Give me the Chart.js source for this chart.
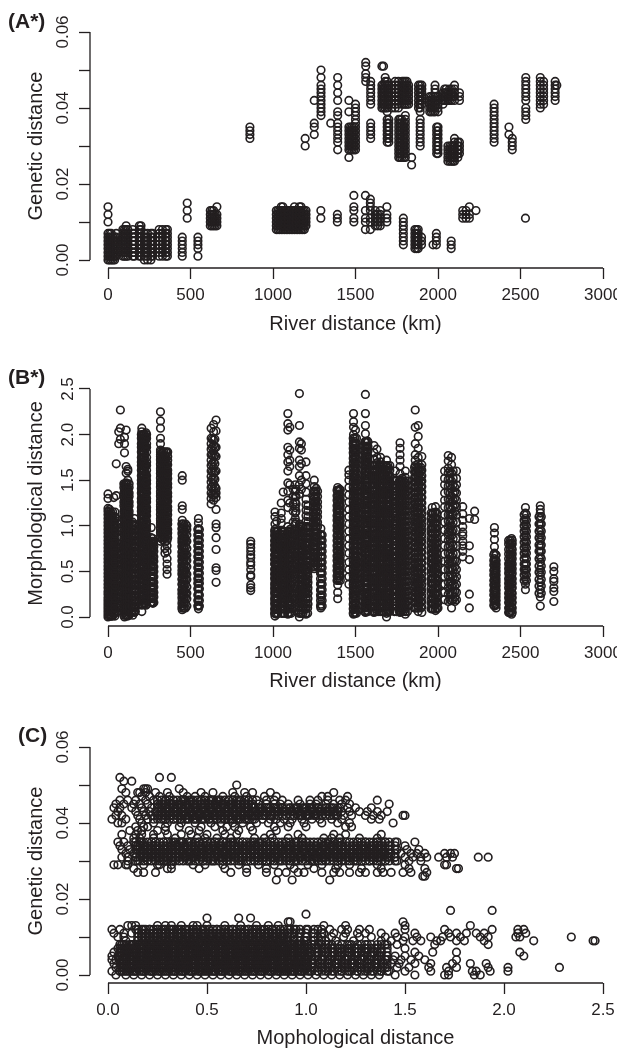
<!DOCTYPE html>
<html>
<head>
    <title>Genetic and morphological distance</title>
    <script src="https://cdn.jsdelivr.net/npm/chart.js"></script>
    <style>
        html, body { margin: 0; padding: 0; background: #fff; overflow: hidden; }
        canvas { position: absolute; left: 0; }
        .tag { position: absolute; font: bold 21px "Liberation Sans", Arial, sans-serif; color: #231f20; z-index: 2; }
    </style>
</head>
<body>
    <div class="tag" style="left:8px;top:9px">(A*)</div>
    <div class="tag" style="left:8px;top:365px">(B*)</div>
    <div class="tag" style="left:18px;top:723px">(C)</div>
    <canvas id="chartA" width="621" height="340" style="top:0"></canvas>
    <canvas id="chartB" width="621" height="352" style="top:345px"></canvas>
    <canvas id="chartC" width="621" height="354" style="top:700px"></canvas>

    <script>
    // 軸の目盛り
    const riverTicks = [0, 500, 1000, 1500, 2000, 2500, 3000];
    const riverTickLabels = ['0', '500', '1000', '1500', '2000', '2500', '3000'];
    const geneticTicks = [0, 0.01, 0.02, 0.03, 0.04, 0.05, 0.06];
    const geneticTickLabels = ['0.00', '', '0.02', '', '0.04', '', '0.06'];
    const morphTicks = [0, 0.5, 1, 1.5, 2, 2.5];
    const morphTickLabels = ['0.0', '0.5', '1.0', '1.5', '2.0', '2.5'];

    // (A) river distance in km, genetic distance in units of 0.001, one list per column
    const aKm = [0, 10, 20, 30, 40, 50, 90, 100, 110, 120, 150, 160, 190, 200, 220, 240, 260, 270, 310, 330, 350, 360, 450, 480, 545,
        620, 630, 640, 650, 660, 1020, 1040, 1050, 1060, 1080, 1100, 1110, 1130, 1150, 1170, 1190, 1200, 1290, 1390, 1490, 1560, 1590,
        1620, 1650, 1690, 1790, 1860, 1880, 1900, 1970, 1990, 2080, 2150, 2170, 2190, 2230, 2530,
        860, 1195, 1250, 1291, 1350, 1392, 1460, 1480, 1500, 1562, 1592, 1660, 1670, 1680, 1692, 1702, 1770, 1792, 1802, 1840,
        1892, 1882, 1902, 1960, 1982, 2000, 1992, 2030, 2060, 2082, 2100, 2130, 2340, 2430, 2450, 2532, 2620, 2640, 2710, 2720,
        1030, 1070, 1090, 1120, 1140, 1160, 1180, 1720, 1740, 1760, 1782, 1812, 1822, 1762, 1780, 1470, 1490, 1950, 1972, 2040, 2050, 2070, 2072, 2092, 2120, 1870, 1635];
    const aGen = [
        [0, 1, 2, 3, 4, 5, 6, 7, 10, 12, 14], [0, 1, 2, 3, 4, 5, 6, 7], [0, 1, 2, 3, 4, 5, 6, 7], [0, 1, 2, 3, 4, 5, 6], [0, 1, 2, 3, 4, 5, 6],
        [1, 2, 3, 4, 5, 6, 7], [1, 2, 3, 4, 5, 6, 7, 8], [1, 2, 3, 4, 5, 6, 7, 8], [1, 2, 3, 4, 5, 6, 7, 8, 9], [1, 2, 3, 4, 5, 6, 7, 8],
        [1, 2, 3, 4, 5, 6, 7, 8], [1, 2, 3, 4, 5, 6, 7], [1, 2, 3, 4, 5, 6, 7, 8, 9], [1, 2, 3, 4, 5, 6, 7, 8, 9], [0, 1, 2, 3, 4, 5, 6, 7],
        [0, 1, 2, 3, 4, 5, 6, 7], [0, 1, 2, 3, 4, 5, 6, 7], [1, 2, 3, 4, 5, 6, 7], [1, 2, 3, 4, 5, 6, 7, 8], [1, 2, 3, 4, 5, 6, 7, 8],
        [1, 2, 3, 4, 5, 6, 7, 8], [1, 2, 3, 4, 5, 6, 7, 8], [1, 2, 3, 4, 5, 6], [11, 13, 15], [1, 3, 4, 5, 6],
        [9, 10, 11, 12, 13], [9, 10, 11, 12, 13], [9, 10, 11, 12, 13], [9, 10, 11, 12], [9, 10, 11, 12, 14],
        [8, 9, 10, 11, 12, 13], [8, 9, 10, 11, 12, 13], [8, 9, 10, 11, 12, 13, 14], [8, 9, 10, 11, 12, 13, 14], [8, 9, 10, 11, 12, 13],
        [8, 9, 10, 11, 12, 13], [8, 9, 10, 11, 12, 13], [8, 9, 10, 11, 12, 13, 14], [8, 9, 10, 11, 12, 13], [8, 9, 10, 11, 12, 13, 14],
        [8, 9, 10, 11, 12, 13], [9, 10, 11, 12, 13], [11, 13], [10, 11, 12], [10, 11, 13, 14, 17], [8, 10, 11, 13, 17], [8, 10, 11, 13, 14, 15, 16],
        [9, 10, 11, 12, 13], [9, 10, 11, 12, 13], [10, 11, 12, 14], [4, 5, 6, 7, 8, 9, 10, 11], [3, 4, 5, 6, 7, 8], [3, 4, 5, 6, 7, 8], [4, 5, 6],
        [4], [4, 5, 6, 7], [3, 4, 5], [11, 12, 13], [11, 12, 13], [11, 12, 14], [13], [11],
        [32, 33, 34, 35], [30, 32], [33, 35, 36, 42], [38, 39, 40, 41, 42, 43, 44, 45, 46, 48, 50], [36],
        [29, 31, 32, 33, 34, 35, 36, 38, 39, 42, 44, 46, 48], [27, 29, 30, 31, 32, 33, 34, 35, 39, 42], [29, 30, 31, 32, 33, 34, 35],
        [29, 30, 31, 32, 33, 34, 35, 36, 37, 38, 39, 40, 41], [47, 48, 49, 51, 52], [32, 33, 34, 35, 36, 41, 42, 43, 44, 45, 46, 47],
        [40, 41, 42, 43, 44, 45, 46, 51], [40, 41, 42, 43, 44, 45, 46, 51], [40, 41, 42, 43, 44, 45, 46, 47, 48],
        [31, 32, 33, 34, 35, 36, 37, 39, 40, 41, 42, 43, 44, 45, 46, 47], [31, 32, 33, 34, 35, 36, 37, 41, 42, 43, 44, 45, 46],
        [27, 28, 29, 30, 31, 32, 33, 34, 35, 36, 37], [27, 28, 29, 30, 31, 32, 33, 34, 35, 36, 41, 42, 43, 44, 45, 46, 47],
        [27, 28, 29, 30, 31, 32, 33, 34, 35, 36, 37, 38, 41, 42, 43, 44, 45, 46, 47], [25, 27],
        [30, 31, 32, 33, 34, 35, 36, 37, 39, 40, 41, 42, 43, 44, 45, 46], [40, 41, 42, 43, 44, 45, 46], [41, 42, 43, 44, 45, 46],
        [39, 40, 41, 42, 43], [39, 40, 41, 42, 43, 44, 45, 46], [39, 40, 41, 42, 43, 28, 29, 30, 31, 32, 33, 34, 35], [28, 29, 30, 31, 32, 33, 34, 35],
        [41, 42, 43, 44], [26, 27, 28, 29, 30, 42, 43, 44], [26, 27, 28, 29, 30, 42, 43, 44, 45], [26, 27, 28, 29, 30, 31, 32, 42, 43, 44, 45, 46],
        [28, 29, 30, 31, 42, 43, 44], [31, 32, 33, 34, 35, 36, 37, 38, 39, 40, 41], [33, 35], [29, 30, 31, 32],
        [37, 38, 39, 40, 42, 43, 44, 45, 46, 47, 48], [40, 41, 42, 43, 44, 45, 46, 47, 48], [41, 42, 43, 44, 45, 46, 47], [42, 43, 44, 45, 46, 47], [46],
        [8, 9, 10, 11, 12, 13], [8, 9, 10, 11, 12, 13], [8, 9, 10, 11, 12, 13], [8, 9, 10, 11, 12, 13], [8, 9, 10, 11, 12, 13], [8, 9, 10, 11, 12, 13, 14], [8, 9, 10, 11, 12, 13],
        [40, 41, 42, 43, 44, 45, 46], [40, 41, 42, 43, 44, 45, 46, 47], [40, 41, 42, 43, 44, 45, 46, 47], [41, 42, 43, 44, 45, 46, 47], [41, 42, 43, 44, 45, 46, 47], [41, 42, 43, 44, 45, 46],
        [27, 28, 29, 30, 31, 32, 33, 34, 35, 36, 37], [27, 28, 29, 30, 31, 32, 33, 34, 35, 36, 37], [29, 30, 31, 32, 33, 34, 35], [29, 30, 31, 32, 33, 34, 35],
        [39, 40, 41, 42, 43], [39, 40, 41, 42, 43], [42, 43, 44, 45], [42, 43, 44, 45], [42, 43, 44, 45], [26, 27, 28, 29, 30], [26, 27, 28, 29, 30], [27, 28, 29, 30, 31], [3, 4, 5, 6, 7, 8], [9, 10, 11, 12]
    ];

    // (B) river distance in km, morphological distance in units of 0.01
    const bKm = [0, 10, 20, 35, 50, 65, 75, 100, 110, 120, 150, 160, 205, 218, 230, 262, 272, 318, 330, 345, 358,
        450, 462, 478, 548, 625, 640, 655, 865, 1012, 1022, 1050, 1062, 1090, 1102, 1135, 1160, 1172, 1200, 1212, 1250, 1262, 1290,
        1392, 1404, 1460, 1488, 1500, 1512, 1560, 1572, 1612, 1630, 1652, 1688, 1700, 1742, 1770, 1782, 1802, 1862, 1880, 1902, 1965, 1985, 2000,
        2062, 2082, 2102, 2150, 2190, 2222, 2342, 2352, 2432, 2446, 2530, 2620, 2702];
    const bMorph = [
        [0, 3, 6, 9, 12, 15, 18, 21, 25, 28, 32, 36, 40, 44, 48, 52, 56, 60, 64, 68, 72, 76, 80, 84, 88, 92, 96, 100, 104, 108, 112, 116, 119, 130, 135],
        [2, 7, 12, 17, 22, 27, 33, 38, 43, 48, 53, 58, 63, 68, 73, 78, 83, 88, 93, 98, 103, 108, 113, 118],
        [1, 5, 10, 15, 20, 25, 30, 35, 41, 46, 51, 56, 61, 66, 71, 76, 81, 86, 91, 96, 101, 106, 111],
        [3, 9, 14, 19, 24, 29, 34, 40, 45, 50, 55, 60, 65, 70, 75, 80, 85, 90, 95, 100, 105, 131],
        [5, 11, 18, 24, 31, 37, 44, 50, 57, 63, 70, 76, 82, 92, 100, 108, 133, 168],
        [10, 16, 22, 28, 34, 40, 46, 52, 58, 64, 70, 76, 80, 190, 203],
        [12, 20, 30, 40, 50, 60, 70, 195, 207, 227],
        [0, 5, 10, 15, 20, 25, 30, 35, 40, 45, 50, 55, 60, 65, 70, 75, 80, 85, 90, 95, 100, 105, 110, 115, 120, 125, 130, 135, 140, 145, 180, 190, 197],
        [2, 7, 12, 17, 22, 27, 32, 37, 42, 47, 52, 57, 62, 67, 72, 77, 82, 87, 92, 97, 102, 107, 112, 117, 122, 127, 132, 137, 142, 147, 158, 165, 205],
        [1, 6, 11, 16, 21, 26, 31, 36, 41, 46, 51, 56, 61, 66, 71, 76, 81, 86, 91, 96, 101, 106, 111, 116, 121, 126, 131, 136, 141, 150, 160, 162],
        [2, 8, 14, 20, 26, 32, 38, 44, 50, 56, 62, 68, 74, 80, 86, 92, 98, 104],
        [5, 11, 17, 23, 29, 35, 41, 47, 53, 59, 65, 71, 77, 83, 89, 95, 101, 108],
        [6, 13, 18, 23, 28, 33, 38, 43, 48, 53, 58, 63, 68, 73, 78, 83, 88, 93, 98, 103, 108, 113, 118, 123, 128, 133, 138, 143, 148, 153, 158, 163, 168, 173, 178, 183, 188, 193, 198, 203, 207],
        [15, 20, 25, 30, 35, 40, 45, 50, 55, 60, 65, 70, 75, 80, 85, 90, 95, 100, 105, 110, 115, 120, 125, 130, 135, 140, 145, 150, 155, 160, 165, 170, 175, 180, 185, 190, 195, 200],
        [13, 18, 22, 27, 32, 37, 42, 47, 52, 57, 62, 67, 72, 77, 82, 87, 92, 97, 102, 107, 112, 117, 122, 127, 132, 137, 142, 147, 152, 157, 167, 186, 195, 202],
        [16, 21, 27, 33, 39, 45, 51, 57, 63, 69, 75, 81, 87, 98],
        [15, 20, 26, 32, 38, 44, 50, 56, 62, 68, 74, 80, 86],
        [83, 88, 93, 98, 103, 108, 113, 118, 123, 128, 133, 138, 143, 148, 153, 158, 163, 168, 173, 178, 183, 190, 196, 207, 215, 225],
        [85, 90, 95, 100, 105, 110, 115, 120, 125, 130, 135, 140, 145, 150, 155, 160, 165, 170, 175, 180],
        [70, 75, 82, 87, 92, 97, 102, 107, 112, 117, 122, 127, 132, 137, 142, 147, 152, 157, 162, 167, 172],
        [47, 52, 58, 64, 72, 78, 84, 90, 96, 102, 108, 114, 120, 126, 132, 138, 144, 150, 156, 162, 168, 180],
        [8, 12, 18, 24, 30, 36, 42, 48, 54, 60, 66, 72, 78, 84, 90, 96, 102, 106, 118, 122, 150, 155],
        [10, 16, 22, 28, 34, 40, 46, 52, 58, 64, 70, 76, 82, 88, 94, 100],
        [12, 20, 26, 33, 41, 47, 55, 62, 68, 75, 83, 90, 96, 100],
        [9, 13, 19, 25, 31, 37, 43, 49, 55, 61, 67, 73, 79, 85, 91, 97, 103, 108],
        [124, 130, 136, 142, 148, 154, 160, 166, 172, 178, 184, 190, 196, 207],
        [128, 134, 140, 146, 152, 158, 164, 170, 176, 182, 188, 194, 203, 211],
        [38, 51, 54, 74, 87, 98, 102, 118, 131, 136, 141, 160, 176, 186, 204, 216],
        [29, 32, 35, 44, 46, 52, 57, 60, 65, 68, 72, 76, 80, 83],
        [1, 4, 8, 13, 18, 23, 28, 33, 38, 43, 48, 53, 58, 63, 68, 73, 78, 83, 88, 96, 102, 110, 115],
        [3, 9, 15, 21, 27, 33, 39, 45, 51, 57, 63, 69, 75, 81, 87, 93, 105],
        [12, 18, 24, 30, 36, 42, 48, 54, 60, 66, 72, 78, 84, 90, 95, 103, 108, 114, 125],
        [15, 21, 27, 33, 39, 45, 51, 57, 63, 69, 75, 81, 87, 93, 137],
        [3, 9, 15, 21, 27, 33, 39, 45, 51, 57, 63, 69, 75, 81, 87, 93, 99, 120, 128, 138, 147, 160, 170, 178, 186, 205, 212, 223],
        [5, 12, 18, 24, 30, 36, 42, 48, 54, 60, 66, 72, 78, 84, 90, 96, 125, 145, 165, 172, 183, 208],
        [60, 66, 72, 78, 84, 90, 96, 102, 108, 114, 120, 126, 132, 138, 145],
        [0, 6, 12, 18, 24, 30, 36, 42, 48, 54, 60, 66, 72, 78, 84, 90, 96, 102, 135, 145, 155, 165, 172, 185, 192, 210, 245],
        [4, 10, 16, 22, 28, 34, 40, 46, 52, 58, 64, 70, 76, 82, 88, 94, 100, 140, 150, 168, 183, 190],
        [3, 9, 15, 21, 27, 33, 39, 45, 51, 57, 63, 69, 75, 81, 87, 93, 99, 105, 111, 117, 123, 129, 137, 146, 155, 170],
        [14, 20, 26, 32, 38, 44, 50, 56, 62, 68, 74, 80, 86, 92, 98, 104, 110, 116, 122],
        [53, 59, 65, 71, 77, 83, 89, 95, 101, 107, 113, 119, 125, 131, 137, 143, 150],
        [57, 63, 69, 75, 81, 87, 93, 99, 105, 111, 117, 123, 129, 135, 141],
        [10, 14, 22, 29, 37, 48, 54, 60, 66, 72, 78, 84, 90, 97],
        [20, 27, 35, 42, 48, 54, 60, 66, 72, 78, 84, 90, 96, 102, 108, 114, 120, 126, 132, 138, 142],
        [45, 51, 57, 63, 69, 75, 81, 87, 93, 99, 105, 111, 117, 123, 129, 135, 140],
        [36, 44, 52, 60, 70, 78, 86, 94, 102, 110, 118, 126, 134, 142, 150, 156, 161],
        [3, 8, 13, 18, 23, 28, 33, 38, 43, 48, 53, 58, 63, 68, 73, 78, 83, 88, 93, 98, 103, 108, 113, 118, 123, 128, 133, 138, 143, 148, 153, 158, 163, 168, 173, 178, 183, 188, 193, 200, 208, 214, 223],
        [5, 10, 15, 20, 25, 30, 35, 40, 45, 50, 55, 60, 65, 70, 75, 80, 85, 90, 95, 100, 105, 110, 115, 120, 125, 130, 135, 140, 145, 150, 155, 160, 165, 170, 175, 180, 185, 190, 205],
        [30, 36, 42, 48, 54, 60, 66, 72, 78, 84, 90, 96, 102, 108, 114, 120, 126, 132, 138, 144, 150],
        [5, 10, 15, 20, 25, 30, 35, 40, 45, 50, 55, 60, 65, 70, 75, 80, 85, 90, 95, 100, 105, 110, 115, 120, 125, 130, 135, 140, 145, 150, 155, 160, 165, 170, 175, 180, 185, 192, 201, 210, 223, 244],
        [7, 13, 19, 25, 31, 37, 43, 49, 55, 61, 67, 73, 79, 85, 91, 97, 103, 109, 115, 121, 127, 133, 139, 145, 151, 157, 163, 169, 175, 181, 187, 193],
        [5, 12, 19, 26, 33, 40, 47, 54, 61, 68, 75, 82, 89, 96, 103, 110, 117, 124, 131, 138, 145, 152, 159, 166, 173, 180, 188],
        [8, 15, 22, 29, 36, 43, 50, 57, 64, 71, 78, 85, 92, 99, 106, 113, 120, 127, 134, 141, 148, 155, 162, 169, 175, 184],
        [10, 17, 24, 31, 38, 45, 52, 59, 66, 73, 80, 87, 94, 101, 108, 115, 122, 129, 136, 143, 150, 157, 164, 170, 175],
        [0, 4, 9, 15, 21, 27, 33, 39, 45, 51, 57, 63, 69, 75, 81, 87, 93, 99, 105, 111, 117, 123, 129, 135, 141, 147, 153, 159, 165, 172],
        [6, 12, 18, 24, 30, 36, 42, 48, 54, 60, 66, 72, 78, 84, 90, 96, 102, 108, 114, 120, 126, 132, 138, 144, 150, 156, 163],
        [30, 36, 42, 48, 54, 60, 66, 72, 78, 84, 90, 96, 102, 108, 114, 120, 126, 132, 138, 144, 150, 160],
        [5, 10, 15, 20, 25, 30, 35, 40, 45, 50, 55, 60, 65, 70, 75, 80, 85, 90, 95, 100, 105, 110, 115, 120, 125, 130, 135, 140, 145, 150, 157, 165, 172, 178, 185, 191],
        [8, 14, 20, 26, 32, 38, 44, 50, 56, 62, 68, 74, 80, 86, 92, 98, 104, 110, 116, 122, 128, 134, 140, 146, 152],
        [3, 9, 15, 21, 27, 33, 39, 45, 51, 57, 63, 69, 75, 81, 87, 93, 99, 105, 111, 117, 123, 129, 135, 141, 147, 153, 160],
        [10, 16, 22, 28, 34, 40, 46, 52, 58, 64, 70, 76, 82, 88, 94, 100, 106, 112, 118, 124, 130, 136, 142, 148, 154, 160, 166, 172, 178, 190, 208, 227],
        [6, 12, 18, 24, 30, 36, 42, 48, 54, 60, 66, 72, 78, 84, 90, 96, 102, 108, 114, 120, 126, 132, 138, 144, 150, 156, 162, 168, 175, 185, 198, 210],
        [5, 11, 17, 23, 29, 35, 41, 47, 53, 59, 65, 71, 77, 83, 89, 95, 101, 107, 113, 119, 125, 131, 137, 143, 149, 155, 161, 167, 176],
        [9, 15, 22, 29, 36, 43, 50, 57, 64, 71, 78, 85, 92, 99, 106, 113, 120],
        [7, 13, 19, 25, 31, 37, 43, 49, 55, 61, 67, 73, 79, 85, 91, 97, 103, 109, 115, 121],
        [10, 16, 24, 32, 40, 48, 56, 62],
        [17, 25, 32, 38, 45, 52, 58, 63, 70, 77, 84, 90, 93, 99, 105, 112, 120, 129, 137, 144, 151, 158, 163, 171, 177],
        [10, 18, 26, 34, 39, 46, 53, 60, 67, 74, 81, 89, 94, 100, 107, 112, 118, 126, 132, 141, 149, 158, 167, 175],
        [17, 22, 28, 34, 41, 48, 55, 62, 116, 123, 130, 137, 142],
        [66, 72, 78, 83, 89, 93, 99, 106, 113, 121],
        [10, 25, 63, 78, 108],
        [107, 116],
        [12, 16, 20, 24, 28, 32, 36, 40, 44, 48, 52, 56, 60, 64, 70, 77, 85, 92, 98],
        [10, 14, 18, 22, 26, 30, 34, 38, 42, 46, 50, 54, 58, 62, 68],
        [5, 10, 15, 20, 25, 30, 35, 40, 45, 50, 55, 60],
        [3, 7, 11, 16, 21, 26, 31, 36, 41, 46, 51, 56, 61, 66, 71, 76, 81, 86],
        [30, 36, 42, 48, 52, 58, 66, 72, 78, 84, 90, 96, 102, 108, 114, 120],
        [12, 22, 30, 38, 46, 52, 60, 66, 72, 78, 84, 90, 96, 102, 108, 114, 118, 122],
        [17, 28, 32, 39, 42, 50, 55]
    ];
    // (B) ほぼ真っ黒なところ: 同じ値が並ぶ列のまとまり
    const bBlockKm = [[4, 16, 28, 42], [96, 106, 116, 128], [146, 156, 166], [202, 212, 222, 234], [258, 268, 278], [318, 328, 338, 350, 362],
        [448, 458, 470], [544, 554], [1010, 1020, 1030, 1050, 1060, 1070, 1090, 1100, 1110], [1158, 1170, 1182, 1198, 1210], [1245, 1258, 1270], [1288, 1298],
        [1388, 1398, 1408], [1486, 1496, 1506], [1556, 1566, 1576], [1606, 1618, 1630, 1642, 1654, 1668, 1684, 1696, 1708], [1735, 1748, 1766, 1778, 1790, 1802, 1815],
        [1858, 1870, 1882, 1896], [1958, 1970, 1982, 1994], [2338, 2350], [2428, 2438, 2450], [2522, 2536], [2612, 2626],
        [2040, 2072, 2092, 2112], [632, 648], [1122, 1140]];
    const bBlockMorph = [
        [1, 6, 10, 16, 20, 26, 31, 35, 41, 45, 50, 56, 60, 66, 70, 75, 81, 85, 91, 95, 100, 106, 110, 115],
        [2, 7, 11, 17, 21, 27, 31, 37, 42, 46, 52, 56, 62, 66, 72, 77, 81, 87, 91, 97, 101, 107, 112, 116, 122, 126, 132, 136, 142, 146],
        [6, 12, 18, 23, 30, 36, 41, 48, 54, 60, 66, 71, 78, 84, 90, 96, 101],
        [14, 19, 25, 30, 35, 41, 46, 50, 56, 61, 66, 70, 76, 81, 86, 90, 96, 100, 105, 111, 116, 120, 126, 130, 136, 141, 146, 150, 155, 161, 166, 170, 175, 181, 186, 190, 196, 200],
        [16, 22, 27, 33, 38, 44, 50, 55, 61, 66, 72, 77, 83],
        [87, 92, 96, 102, 106, 112, 117, 121, 127, 132, 136, 142, 146, 152, 157, 161, 167, 172, 176, 181],
        [10, 15, 21, 26, 30, 36, 41, 47, 51, 56, 62, 67, 71, 77, 82, 86, 92, 97, 102],
        [12, 18, 24, 31, 37, 42, 48, 54, 60, 66, 72, 78, 84, 90, 96],
        [4, 9, 15, 20, 26, 31, 36, 42, 47, 52, 58, 63, 68, 74, 79, 84, 90, 94],
        [4, 10, 15, 21, 26, 30, 36, 41, 47, 52, 56, 62, 67, 73, 78, 82, 88, 93, 99],
        [55, 60, 66, 71, 77, 82, 88, 93, 99, 104, 110, 115, 121, 126, 132, 138],
        [12, 18, 24, 30, 36, 42, 48, 54, 60, 66, 72, 78, 84, 90],
        [40, 45, 51, 56, 62, 67, 73, 78, 84, 89, 95, 100, 106, 111, 117, 122, 128, 133, 139],
        [4, 9, 14, 20, 25, 30, 36, 41, 46, 52, 57, 62, 68, 73, 78, 84, 89, 94, 100, 105, 110, 116, 121, 126, 132, 137, 142, 148, 153, 158, 164, 169, 174, 180, 185, 190, 196],
        [6, 11, 16, 22, 27, 32, 38, 43, 48, 54, 59, 64, 70, 75, 80, 86, 91, 96, 102, 107, 112, 118, 123, 128, 134, 139, 144, 150, 155, 160, 166, 171, 176, 182, 187, 192],
        [6, 11, 17, 22, 27, 33, 38, 43, 49, 54, 59, 65, 70, 75, 81, 86, 91, 97, 102, 107, 113, 118, 123, 129, 134, 139, 145, 150, 155, 161, 166],
        [6, 12, 17, 23, 28, 34, 39, 45, 50, 56, 61, 67, 72, 78, 83, 89, 94, 100, 105, 111, 116, 122, 127, 133, 138, 144, 149],
        [10, 16, 21, 27, 32, 38, 43, 49, 54, 60, 65, 71, 76, 82, 87, 93, 98, 104, 109, 115, 120, 126, 131, 137, 142, 148, 153, 159, 164],
        [9, 15, 20, 26, 31, 37, 42, 48, 53, 59, 64, 70, 75, 81, 86, 92, 97, 103, 108, 114],
        [13, 18, 24, 29, 35, 40, 46, 51, 57, 62, 68],
        [5, 10, 16, 21, 26, 32, 37, 42, 48, 53, 58, 64, 69, 74, 80, 84],
        [40, 46, 52, 58, 64, 70, 76, 82, 88, 94, 100, 106, 112],
        [26, 34, 41, 49, 56, 64, 72, 79, 87, 94, 102, 110],
        [19, 27, 36, 44, 52, 61, 69, 78, 86, 95, 104, 112, 121, 128, 136, 145, 152, 160],
        [134, 143, 151, 159, 168, 177, 186, 195],
        [20, 32, 44, 56, 68, 80, 92, 104, 116, 124, 132, 140]
    ];

    // (C) genetic distance in units of 0.001, morphological distance in units of 0.01
    const cGen = [52, 51, 50, 49, 48, 47, 46, 45, 44, 43, 42, 41, 40, 39, 38, 37, 36, 35, 34, 33, 32, 31, 30, 29, 28, 27, 26, 25,
        17, 16, 15, 14, 13, 12, 11, 10, 9, 8, 7, 6, 5, 4, 3, 2, 1, 0];
    const cMorph = [
        [6, 26, 32], [8, 12], [65], [7, 18, 19, 20, 36], [9, 15, 16, 19, 24, 30, 38, 47, 53, 63, 69, 73, 82, 114],
        [17, 21, 26, 31, 40, 44, 49, 58, 64, 70, 79, 85, 108, 111, 121],
        [6, 10, 14, 19, 23, 29, 33, 38, 42, 47, 52, 56, 61, 66, 71, 75, 80, 84, 88, 96, 102, 106, 111, 117, 120, 136],
        [4, 8, 13, 16, 20, 25, 28, 32, 36, 40, 43, 47, 51, 54, 58, 62, 65, 69, 73, 76, 80, 84, 87, 91, 97, 102, 105, 110, 114, 118, 122, 142],
        [3, 6, 12, 17, 22, 26, 30, 33, 37, 41, 44, 48, 52, 55, 59, 63, 66, 70, 74, 77, 81, 85, 88, 92, 95, 99, 103, 106, 110, 113, 117, 121, 125, 133],
        [5, 14, 18, 21, 24, 27, 31, 34, 38, 42, 45, 49, 53, 56, 60, 64, 67, 71, 75, 78, 82, 86, 89, 93, 96, 100, 104, 107, 111, 114, 118, 122, 127, 131, 136, 141],
        [4, 7, 15, 19, 22, 26, 29, 32, 35, 39, 43, 46, 50, 54, 57, 61, 65, 68, 72, 76, 79, 83, 86, 90, 94, 97, 101, 105, 108, 112, 115, 119, 123, 130, 134, 138, 149, 150],
        [2, 9, 16, 20, 23, 28, 33, 37, 40, 44, 48, 51, 55, 59, 62, 66, 70, 74, 78, 82, 85, 89, 93, 98, 103, 107, 113, 118, 133, 137],
        [5, 7, 17, 23, 30, 37, 44, 52, 57, 63, 68, 75, 81, 87, 92, 99, 108, 116, 122, 144],
        [14, 18, 20, 29, 36, 47, 54, 60, 64, 72, 84, 91, 100, 120, 123],
        [11, 15, 17, 25, 29, 41, 46, 58, 66, 73, 85],
        [7, 14, 17, 23, 30, 37, 42, 50, 59, 65, 82, 96, 114, 120, 138],
        [13, 16, 23, 34, 45, 49, 55, 62, 74, 79, 83, 91, 98, 109, 113, 117, 127, 136],
        [5, 8, 13, 17, 24, 28, 33, 37, 41, 46, 50, 54, 58, 63, 68, 73, 77, 80, 90, 95, 100, 108, 111, 117, 126, 130, 136, 140, 146, 155],
        [6, 10, 15, 19, 24, 28, 32, 35, 39, 42, 46, 50, 53, 57, 60, 64, 68, 71, 75, 82, 87, 92, 98, 102, 105, 109, 113, 118, 124, 129, 133, 138, 142, 150],
        [7, 11, 15, 18, 21, 25, 29, 33, 36, 40, 44, 47, 51, 54, 58, 62, 65, 69, 73, 76, 80, 84, 88, 91, 95, 99, 102, 106, 110, 114, 118, 122, 126, 129, 133, 137, 142, 146, 151, 157],
        [9, 13, 17, 20, 23, 27, 31, 34, 38, 41, 45, 48, 52, 55, 59, 63, 66, 70, 74, 78, 81, 85, 89, 92, 96, 100, 103, 107, 111, 115, 119, 123, 127, 131, 135, 139, 143, 148, 153, 156, 160, 170, 173, 175],
        [7, 10, 14, 19, 22, 25, 29, 32, 36, 39, 43, 47, 50, 54, 57, 61, 64, 68, 72, 75, 79, 83, 86, 90, 94, 97, 101, 105, 109, 113, 117, 121, 125, 129, 133, 137, 141, 145, 150, 154, 158, 161, 167, 171, 174, 187, 192],
        [10, 15, 20, 27, 33, 41, 48, 53, 60, 67, 74, 80, 87, 95, 103, 110, 118, 125, 132, 140, 146, 152, 158],
        [3, 5, 9, 10, 18, 25, 26, 32, 43, 49, 58, 66, 76, 84, 92, 101, 108, 116, 122, 136, 150, 170, 171],
        [13, 30, 32, 46, 59, 70, 80, 94, 104, 115, 128, 138, 152, 160, 176, 177],
        [15, 18, 24, 62, 70, 80, 86, 90, 96, 99, 108, 114, 117, 122, 127, 130, 136, 139, 143, 149, 153, 161],
        [160, 159], [85, 93, 112],
        [173, 194], [100], [50, 66, 72], [91, 92, 149],
        [10, 12, 14, 25, 29, 32, 37, 43, 45, 50, 59, 67, 75, 81, 86, 109, 120, 150, 183],
        [2, 6, 14, 18, 21, 25, 28, 32, 36, 39, 43, 48, 51, 55, 59, 63, 67, 71, 74, 79, 83, 87, 92, 95, 101, 106, 112, 118, 121, 127, 132, 150, 170, 194, 207, 210],
        [3, 8, 12, 17, 21, 25, 29, 33, 37, 41, 45, 49, 53, 57, 61, 65, 69, 73, 77, 81, 85, 89, 93, 97, 104, 109, 114, 120, 126, 130, 138, 145, 155, 172, 176, 181, 186, 190, 207, 211],
        [5, 8, 17, 21, 24, 28, 32, 36, 40, 44, 48, 52, 56, 60, 64, 68, 72, 76, 80, 84, 88, 92, 96, 100, 106, 113, 119, 127, 133, 140, 146, 150, 156, 163, 169, 173, 178, 188, 192, 206, 208, 234],
        [9, 15, 18, 22, 26, 30, 34, 38, 42, 46, 50, 54, 58, 62, 66, 70, 74, 78, 82, 86, 90, 94, 99, 104, 110, 115, 124, 138, 143, 149, 154, 158, 166, 168, 176, 180, 190, 215, 245, 246],
        [7, 12, 16, 20, 24, 28, 32, 36, 40, 44, 48, 52, 56, 60, 64, 68, 72, 76, 80, 84, 88, 92, 96, 104, 110, 122, 130, 140, 146, 165, 192],
        [5, 10, 13, 17, 21, 25, 29, 33, 37, 41, 45, 49, 53, 57, 61, 65, 69, 73, 77, 81, 85, 89, 93, 97, 101, 105, 109, 113, 117, 121, 125, 130, 135, 150],
        [3, 6, 10, 14, 18, 22, 26, 30, 34, 38, 42, 46, 50, 54, 58, 62, 66, 70, 74, 78, 82, 86, 90, 94, 98, 102, 106, 110, 114, 118, 122, 126, 130, 134, 138, 155, 164, 176, 208],
        [2, 5, 9, 13, 17, 21, 25, 29, 33, 37, 41, 45, 49, 53, 57, 61, 65, 69, 73, 77, 81, 85, 89, 93, 97, 101, 105, 109, 113, 117, 121, 125, 129, 133, 137, 141, 145, 150, 157, 210],
        [2, 4, 8, 12, 16, 20, 24, 28, 32, 36, 40, 44, 48, 52, 56, 60, 64, 68, 72, 76, 80, 84, 88, 92, 96, 100, 104, 108, 112, 116, 120, 124, 128, 132, 136, 140, 144, 148, 153, 160, 176],
        [3, 7, 11, 15, 19, 23, 27, 31, 35, 39, 43, 47, 51, 55, 59, 63, 67, 71, 75, 79, 83, 87, 91, 95, 99, 103, 107, 111, 115, 119, 123, 127, 131, 135, 139, 143, 147, 155, 163, 174, 183, 191],
        [4, 8, 12, 16, 20, 24, 28, 32, 36, 40, 44, 48, 52, 56, 60, 64, 68, 72, 76, 80, 84, 88, 92, 96, 100, 104, 108, 112, 116, 120, 124, 128, 132, 136, 140, 146, 152, 162, 171, 176, 192, 202, 228],
        [2, 6, 10, 14, 18, 22, 26, 30, 34, 38, 42, 46, 50, 54, 58, 62, 66, 70, 74, 78, 82, 86, 90, 94, 98, 102, 106, 110, 114, 118, 122, 126, 130, 134, 138, 142, 150, 163, 172, 184, 186, 193, 202],
        [4, 9, 13, 17, 21, 25, 29, 33, 37, 41, 45, 49, 53, 57, 61, 65, 69, 73, 77, 81, 85, 89, 93, 97, 101, 105, 109, 113, 117, 121, 125, 129, 133, 137, 145, 155, 170, 172, 185, 188],
        [6, 11, 15, 19, 24, 29, 34, 39, 44, 49, 54, 59, 64, 69, 74, 79, 84, 89, 94, 99, 104, 109, 114, 119, 124, 129, 134, 139, 147, 159, 172, 183, 194, 203],
        [0, 3, 6, 12, 14, 16, 19, 22, 26, 29, 32, 35, 38, 41, 44, 46, 49, 52, 55, 60, 63, 67, 70, 76, 82, 85, 88, 93, 95, 102, 107, 112, 115, 123, 125, 132, 135, 140]
    ];
    // (C) 真っ黒な帯: 同じ値が並ぶ行のまとまり
    const cBlockGen = [[1, 2, 3, 4, 5, 6, 7, 8], [9, 10, 11, 12], [30, 31, 32, 33, 34, 35], [41, 42, 43, 44, 45, 46], [42, 43, 44]];
    const cBlockMorph = [
        [6, 7, 8, 9, 11, 12, 13, 14, 16, 17, 18, 19, 21, 22, 23, 24, 26, 27, 28, 29, 31, 32, 33, 34, 36, 37, 38, 39, 41, 42, 43, 44, 46, 47, 48, 49, 51, 52, 53, 54, 56, 57, 58, 59, 61, 62, 63, 64, 66, 67, 68, 69, 71, 72, 73, 74, 76, 77, 78, 79, 81, 82, 83, 84, 86, 87, 88, 89, 91, 92, 93, 94, 96, 97, 98, 99, 101, 103, 106, 108, 111, 113, 116, 118, 121, 123, 126, 128, 131, 133, 136, 138, 141],
        [15, 17, 19, 21, 23, 25, 27, 29, 31, 33, 35, 37, 39, 41, 43, 45, 47, 49, 51, 53, 55, 57, 59, 61, 63, 65, 67, 69, 71, 73, 75, 77, 79, 81, 83, 85, 87, 89, 91, 94, 97, 100, 104, 108],
        [14, 16, 18, 20, 22, 24, 26, 28, 30, 32, 34, 36, 38, 40, 42, 44, 46, 48, 50, 52, 54, 56, 58, 60, 62, 64, 66, 68, 70, 72, 74, 76, 78, 80, 82, 84, 86, 88, 90, 92, 94, 96, 98, 100, 102, 104, 106, 108, 110, 112, 114, 116, 118, 120, 122, 124, 126, 128, 130, 132, 134, 136, 138, 140, 142, 145],
        [25, 27, 29, 31, 33, 35, 37, 39, 41, 43, 45, 47, 49, 51, 53, 55, 57, 59, 61, 63, 65, 67, 69, 71, 73],
        [74, 76, 78, 80, 82, 84, 86, 88, 90, 92, 94, 96, 98, 100, 102, 104, 106, 108, 110, 112, 114, 116]
    ];

    const inkColor = '#231f20';
    const fontName = '"Liberation Sans", Arial, sans-serif';

    // R風に目盛りの範囲だけ軸線を引く
    const axisLines = {
        id: 'axisLines',
        afterDraw(chart) {
            const { ctx, chartArea, scales: { x, y } } = chart;
            const xt = x.ticks, yt = y.ticks;
            ctx.save();
            ctx.strokeStyle = inkColor;
            ctx.lineWidth = 1.3;
            ctx.beginPath();
            ctx.moveTo(x.getPixelForValue(xt[0].value), chartArea.bottom);
            ctx.lineTo(x.getPixelForValue(xt[xt.length - 1].value), chartArea.bottom);
            ctx.moveTo(chartArea.left, y.getPixelForValue(yt[0].value));
            ctx.lineTo(chartArea.left, y.getPixelForValue(yt[yt.length - 1].value));
            ctx.stroke();
            ctx.restore();
        }
    };

    function axisOptions(ticks, labels, text, size, isY) {
        const opts = {
            type: 'linear',
            position: isY ? 'left' : 'bottom',
            border: { display: false },
            grid: { drawOnChartArea: false, drawTicks: true, tickLength: 11, tickColor: inkColor, tickWidth: 1.3 },
            ticks: {
                autoSkip: false,
                color: inkColor,
                font: { family: fontName, size: 17 },
                padding: isY ? -1 : 6,
                callback: (v) => labels[ticks.indexOf(v)] ?? ''
            },
            title: { display: true, text: text, color: inkColor, font: { family: fontName, size: 20 },
                padding: isY ? { top: 24, bottom: 4 } : { top: 6, bottom: 4 } },
            afterBuildTicks: (axis) => { axis.ticks = ticks.map((v) => ({ value: v })); },
            afterFit: (axis) => {
                // ラベルの余白でプロット領域が縮まないようにする
                axis.paddingLeft = axis.paddingRight = axis.paddingTop = axis.paddingBottom = 0;
                if (isY) axis.width = size; else axis.height = size;
            }
        };
        if (isY) {
            opts.ticks.minRotation = 90;
            opts.ticks.maxRotation = 90;
            opts.ticks.crossAlign = 'center';
        }
        return opts;
    }

    function createPanel(id, points, g) {
        const canvas = document.getElementById(id);
        const xs = (g.xHiPx - g.xLoPx) / g.xHi;
        const ys = (g.yLoPx - g.yHiPx) / g.yHi;
        const topPx = g.yHiPx - 8;
        const xOpts = axisOptions(g.xTicks, g.xLabels, g.xTitle, canvas.height - g.axisPx, false);
        xOpts.min = (90 - g.xLoPx) / xs;
        xOpts.max = (canvas.width - g.xLoPx) / xs;
        const yOpts = axisOptions(g.yTicks, g.yLabels, g.yTitle, 90, true);
        yOpts.max = (g.yLoPx - topPx) / ys;
        yOpts.min = (g.yLoPx - g.axisPx) / ys;
        new Chart(canvas, {
            type: 'scatter',
            data: { datasets: [{ data: points, showLine: false, pointRadius: 3.8, pointBorderWidth: 1.6,
                pointBackgroundColor: 'transparent', pointBorderColor: inkColor, clip: false }] },
            options: {
                responsive: false,
                animation: false,
                layout: { autoPadding: false, padding: { top: topPx } },
                plugins: { legend: { display: false }, tooltip: { enabled: false } },
                scales: { x: xOpts, y: yOpts }
            },
            plugins: [axisLines]
        });
    }

    const pointsA = aKm.flatMap((km, i) => aGen[i].map((g) => ({ x: km, y: g / 1000 })));
    const pointsB = bKm.flatMap((km, i) => bMorph[i].map((m) => ({ x: km, y: m / 100 })))
        .concat(bBlockKm.flatMap((kms, i) => kms.flatMap((km) => bBlockMorph[i].map((m) => ({ x: km, y: m / 100 })))));
    const pointsC = cGen.flatMap((g, i) => cMorph[i].map((m) => ({ x: m / 100, y: g / 1000 })))
        .concat(cBlockGen.flatMap((gs, i) => gs.flatMap((g) => cBlockMorph[i].map((m) => ({ x: m / 100, y: g / 1000 })))));

    createPanel('chartA', pointsA, { xLoPx: 108, xHiPx: 603, xHi: 3000, yLoPx: 260, yHiPx: 32, yHi: 0.06, axisPx: 268,
        xTicks: riverTicks, xLabels: riverTickLabels, yTicks: geneticTicks, yLabels: geneticTickLabels,
        xTitle: 'River distance (km)', yTitle: 'Genetic distance' });
    createPanel('chartB', pointsB, { xLoPx: 108, xHiPx: 603, xHi: 3000, yLoPx: 272, yHiPx: 44, yHi: 2.5, axisPx: 281,
        xTicks: riverTicks, xLabels: riverTickLabels, yTicks: morphTicks, yLabels: morphTickLabels,
        xTitle: 'River distance (km)', yTitle: 'Morphological distance' });
    createPanel('chartC', pointsC, { xLoPx: 108, xHiPx: 603, xHi: 2.5, yLoPx: 275, yHiPx: 47, yHi: 0.06, axisPx: 283,
        xTicks: morphTicks, xLabels: morphTickLabels, yTicks: geneticTicks, yLabels: geneticTickLabels,
        xTitle: 'Mophological distance', yTitle: 'Genetic distance' });
    </script>
</body>
</html>
